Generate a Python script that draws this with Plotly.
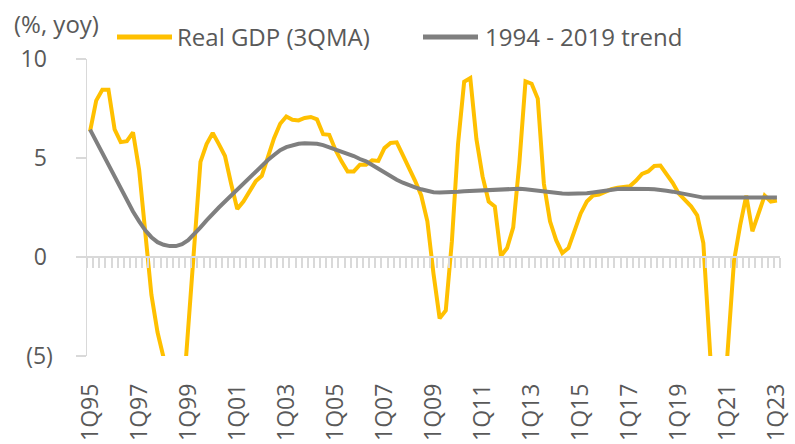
import plotly.graph_objects as go

# Quarterly periods 1Q95 .. 1Q23
years = list(range(1995, 2024))
quarters = [f"{q}Q{str(y)[2:]}" for y in years for q in (1, 2, 3, 4)][:113]

real_gdp = [
    6.34, 7.9, 8.45, 8.45, 6.45, 5.8, 5.85, 6.3, 4.4, 1.0,
    -1.9, -3.8, -5.1, -8.5, -9.5, -7.8, -3.8, 0.4, 4.8, 5.7,
    6.26, 5.7, 5.1, 3.7, 2.42, 2.8, 3.31, 3.82, 4.1, 5.0,
    6.0, 6.73, 7.1, 6.93, 6.9, 7.02, 7.07, 6.95, 6.2, 6.17,
    5.42, 4.83, 4.32, 4.32, 4.66, 4.66, 4.88, 4.85, 5.5, 5.76,
    5.79, 5.15, 4.54, 3.85, 3.11, 1.8, -0.85, -3.1, -2.7, 0.8,
    5.7, 8.85, 9.04, 5.95, 4.07, 2.8, 2.55, 0.05, 0.45, 1.5,
    4.75, 8.87, 8.75, 8.0, 3.7, 1.8, 0.85, 0.2, 0.45, 1.3,
    2.2, 2.8, 3.1, 3.15, 3.3, 3.43, 3.5, 3.55, 3.57, 3.85,
    4.2, 4.32, 4.6, 4.62, 4.2, 3.75, 3.2, 2.86, 2.56, 2.1,
    0.7, -4.3, -9.5, -9.0, -4.9, -0.2, 1.6, 3.1, 1.3, 2.15,
    3.1, 2.8, 2.85,
]

trend = [
    6.43, 5.85, 5.25, 4.65, 4.05, 3.45, 2.85, 2.3, 1.8, 1.35,
    1.0, 0.75, 0.62, 0.55, 0.55, 0.65, 0.85, 1.15, 1.5, 1.85,
    2.2, 2.5, 2.8, 3.1, 3.4, 3.7, 4.0, 4.35, 4.65, 4.9,
    5.15, 5.4, 5.55, 5.65, 5.72, 5.75, 5.76, 5.72, 5.65, 5.55,
    5.45, 5.35, 5.25, 5.1, 4.95, 4.83, 4.65, 4.45, 4.25, 4.05,
    3.9, 3.75, 3.62, 3.52, 3.42, 3.32, 3.27, 3.26, 3.26, 3.28,
    3.3, 3.32, 3.34, 3.36, 3.37, 3.38, 3.39, 3.4, 3.42, 3.45,
    3.45, 3.42, 3.38, 3.34, 3.3, 3.27, 3.24, 3.21, 3.2, 3.2,
    3.2, 3.22, 3.26, 3.31, 3.36, 3.4, 3.43, 3.45, 3.46, 3.46,
    3.45, 3.44, 3.42, 3.4, 3.35, 3.3, 3.24, 3.17, 3.1, 3.04,
    3.0, 3.0, 3.0, 3.0, 3.0, 3.0, 3.0, 3.0, 3.0, 3.0,
    3.0, 3.0, 3.0,
]

series_names = ["Real GDP (3QMA)", "1994 - 2019 trend"]
series_colors = ["#FFC000", "#7F7F7F"]

tick_idx = list(range(0, 113, 8))
tick_text = [quarters[i] for i in tick_idx]
y_vals = [-5, 0, 5, 10]
y_text = ["(5)", "0\u00a0", "5\u00a0", "10\u00a0"]

FONT = "Open Sans"
TXT = "#595959"
AX = "#d9d9d9"
FS = 23
FS_LEG = 24

W, H = 795, 444
ML, MR, MT, MB = 87, 15, 59, 88
PW, PH = W - ML - MR, H - MT - MB


def fx(px):
    return (px - ML) / PW


def fy(py):
    return 1 - (py - MT) / PH


x = list(range(len(quarters)))

fig = go.Figure()
fig.add_trace(go.Scatter(
    x=x, y=real_gdp, mode="lines", name=series_names[0], showlegend=False,
    line=dict(color=series_colors[0], width=4), hoverinfo="skip",
))
fig.add_trace(go.Scatter(
    x=x, y=trend, mode="lines", name=series_names[1], xaxis="x2", showlegend=False,
    line=dict(color=series_colors[1], width=4), hoverinfo="skip",
))

# manual legend (swatch + label)
legend_swatch = [(117, 172), (423, 478)]
legend_text_x = [175, 483]
LEG_Y = 37
shapes = []
annotations = []
for (x0, x1), tx, name, col in zip(legend_swatch, legend_text_x, series_names, series_colors):
    shapes.append(dict(type="line", xref="paper", yref="paper",
                       x0=fx(x0), x1=fx(x1), y0=fy(LEG_Y), y1=fy(LEG_Y),
                       line=dict(color=col, width=5)))
    annotations.append(dict(text=name, xref="paper", yref="paper",
                            x=fx(tx), y=fy(LEG_Y - 1), xanchor="left", yanchor="middle",
                            showarrow=False, font=dict(size=FS_LEG, color=TXT)))

annotations.append(dict(
    text="(%, yoy)", xref="paper", yref="paper",
    x=fx(12), y=fy(23), xanchor="left", yanchor="middle",
    showarrow=False, font=dict(size=FS_LEG, color=TXT),
))

rng = [-0.5, len(quarters) - 0.5]
fig.update_layout(
    width=W, height=H,
    margin=dict(l=ML, r=MR, t=MT, b=MB, autoexpand=False),
    paper_bgcolor="white", plot_bgcolor="white",
    font=dict(family=FONT, size=FS, color=TXT),
    showlegend=False,
    xaxis=dict(
        range=rng, tickmode="array", tickvals=tick_idx, ticktext=tick_text,
        tickangle=-90, showgrid=False, zeroline=False, showline=False,
        ticks="", ticklabelstandoff=22, automargin=False,
        tickfont=dict(size=FS, color=TXT),
    ),
    xaxis2=dict(
        range=rng, overlaying="x", anchor="free", position=1 / 3,
        showline=True, linecolor=AX, linewidth=2,
        ticks="outside", ticklen=10, tickwidth=2, tickcolor=AX,
        tick0=0.5, dtick=1, showticklabels=False, automargin=False,
        showgrid=False, zeroline=False,
    ),
    yaxis=dict(
        range=[-5, 10], tickmode="array", tickvals=y_vals, ticktext=y_text,
        showgrid=False, zeroline=False, showline=True, linecolor=AX,
        linewidth=1.5, ticks="outside", ticklen=10, tickwidth=1.5, tickcolor=AX,
        ticklabelstandoff=18, automargin=False, tickfont=dict(size=FS, color=TXT),
    ),
    shapes=shapes,
    annotations=annotations,
)

fig.write_html(
    "out.html",
    config={"displayModeBar": False, "staticPlot": True},
    post_script="document.body.style.margin='0';document.body.style.overflow='hidden';",
)
